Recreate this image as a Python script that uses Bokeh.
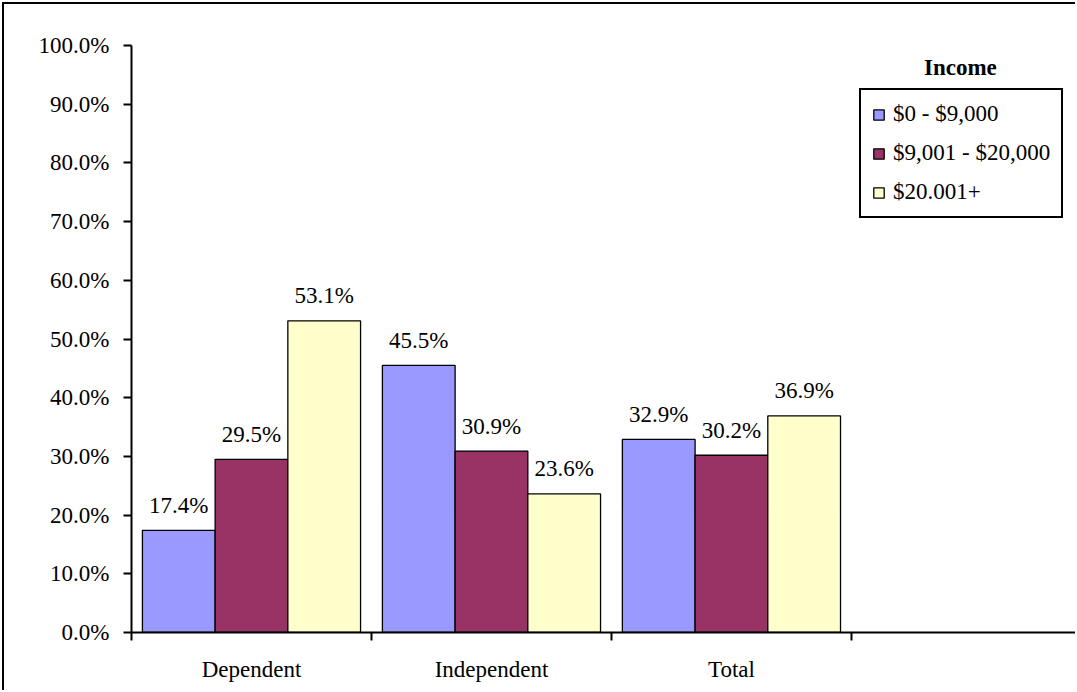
import numpy as np
from bokeh.plotting import figure
from bokeh.models import (Range1d, FixedTicker, PrintfTickFormatter, ColumnDataSource,
                          Legend, LegendItem, Label)
from bokeh.core.properties import value
from bokeh.embed import file_html
from bokeh.resources import INLINE

categories = ["Dependent", "Independent", "Total", ""]
series_names = ["$0 - $9,000", "$9,001 - $20,000", "$20.001+"]
low_income = [17.4, 45.5, 32.9]
mid_income = [29.5, 30.9, 30.2]
high_income = [53.1, 23.6, 36.9]
y_ticks = [0, 10, 20, 30, 40, 50, 60, 70, 80, 90, 100]
colors = ["#9999FF", "#993366", "#FFFFCC"]

FONT = "Liberation Serif"
FS = "23px"

p = figure(width=1073, height=688, x_range=Range1d(0, 3.942), y_range=Range1d(0, 100),
           output_backend="svg", toolbar_location=None,
           min_border_left=127, min_border_right=0, min_border_top=41, min_border_bottom=60)
p.styles = {"margin-left": "2px", "margin-top": "2px",
            "border-left": "2px solid black", "border-top": "2px solid black"}
p.xgrid.visible = False
p.ygrid.visible = False
p.outline_line_color = None
p.background_fill_color = "white"
p.border_fill_color = "white"

bar_w = 0.303
items = []
for k, vals in enumerate([low_income, mid_income, high_income]):
    xs = np.arange(len(vals)) + 0.5 + (k - 1) * bar_w
    src = ColumnDataSource(dict(x=xs, top=vals, label=[f"{v:.1f}%" for v in vals]))
    r = p.vbar(x="x", top="top", width=bar_w, bottom=0, source=src,
               fill_color=colors[k], line_color="black", line_width=1.3)
    p.text(x="x", y="top", text="label", source=src, text_align="center",
           text_baseline="alphabetic", y_offset=-25, text_font=value(FONT),
           text_font_size=FS, text_color="black")
    items.append(LegendItem(label=series_names[k], renderers=[r]))

# x axis: ticks at category boundaries, labels at centres
xa = p.xaxis[0]
xa.ticker = FixedTicker(ticks=[i + 0.5 for i in range(len(categories))],
                        minor_ticks=list(range(len(categories) + 1)))
xa.major_label_overrides = {i + 0.5: c for i, c in enumerate(categories)}
xa.major_tick_in = 0
xa.major_tick_out = 0
xa.minor_tick_in = 0
xa.minor_tick_out = 8
xa.minor_tick_line_width = 2
xa.minor_tick_line_color = "black"
xa.axis_line_width = 2
xa.axis_line_color = "black"
xa.major_label_text_font = FONT
xa.major_label_text_font_size = FS
xa.major_label_text_color = "black"
xa.major_label_standoff = 16

ya = p.yaxis[0]
ya.ticker = FixedTicker(ticks=y_ticks, minor_ticks=[])
ya.formatter = PrintfTickFormatter(format="%.1f%%")
ya.major_tick_in = 0
ya.major_tick_out = 8
ya.major_tick_line_width = 2
ya.major_tick_line_color = "black"
ya.axis_line_width = 2
ya.axis_line_color = "black"
ya.major_label_text_font = FONT
ya.major_label_text_font_size = FS
ya.major_label_text_color = "black"
ya.major_label_standoff = 14

legend = Legend(items=items, location=(728, 414), orientation="vertical")
legend.border_line_color = "black"
legend.border_line_alpha = 1
legend.border_line_width = 2
legend.background_fill_color = "white"
legend.background_fill_alpha = 1
legend.label_text_font = FONT
legend.label_text_font_size = FS
legend.label_text_color = "black"
legend.glyph_width = 13
legend.glyph_height = 13
legend.label_height = 24
legend.label_standoff = 8
legend.spacing = 13
legend.padding = 11
legend.margin = 0
p.add_layout(legend)

title = Label(x=3.454, y=96.2, text="Income", text_font=FONT, text_font_size=FS,
              text_font_style="bold", text_align="center", text_baseline="alphabetic",
              text_color="black")
p.add_layout(title)

open("out.html", "w").write(file_html(p, INLINE))
